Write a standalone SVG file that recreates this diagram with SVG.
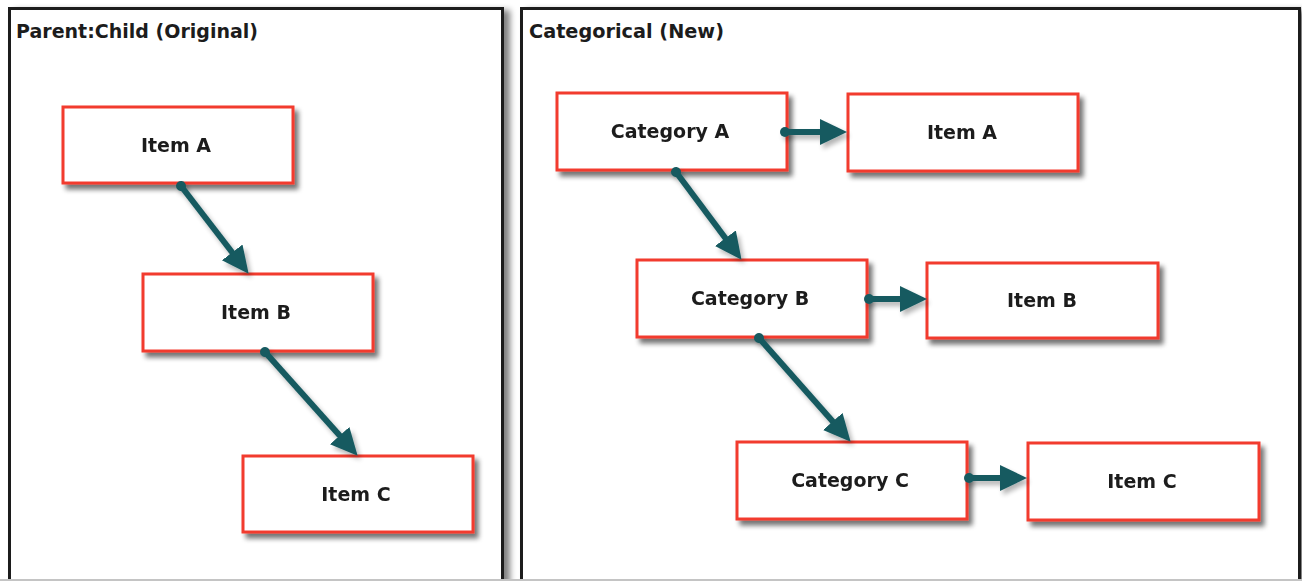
<svg xmlns="http://www.w3.org/2000/svg" width="1302" height="581" viewBox="0 0 1302 581">
<style>
.panel{fill:#fff;stroke:#1e1e1e;stroke-width:3}
.box{fill:#fff;stroke:#f23b2f;stroke-width:3}
.lbl{font-family:"DejaVu Sans",Verdana,sans-serif;font-weight:bold;font-size:19px;fill:#1c1c1c;text-anchor:middle}
.title{font-family:"DejaVu Sans",Verdana,sans-serif;font-weight:bold;font-size:19px;fill:#1c1c1c}
.conn{stroke:#175a60;stroke-width:6;fill:none;marker-start:url(#dot);marker-end:url(#head)}
</style>
<defs>
<filter id="sh" x="-10%" y="-10%" width="130%" height="140%">
<feGaussianBlur in="SourceAlpha" stdDeviation="2.5"/>
<feOffset dx="4" dy="5" result="b"/>
<feComponentTransfer><feFuncA type="linear" slope="0.55"/></feComponentTransfer>
<feMerge><feMergeNode/><feMergeNode in="SourceGraphic"/></feMerge>
</filter>
<filter id="csh" x="-20%" y="-20%" width="150%" height="150%">
<feGaussianBlur in="SourceAlpha" stdDeviation="2.5"/>
<feOffset dx="3" dy="4" result="b"/>
<feComponentTransfer><feFuncA type="linear" slope="0.3"/></feComponentTransfer>
<feMerge><feMergeNode/><feMergeNode in="SourceGraphic"/></feMerge>
</filter>
<filter id="psh" x="-5%" y="-5%" width="110%" height="110%">
<feGaussianBlur in="SourceAlpha" stdDeviation="3"/>
<feOffset dx="6" dy="3" result="b"/>
<feComponentTransfer><feFuncA type="linear" slope="0.5"/></feComponentTransfer>
<feMerge><feMergeNode/><feMergeNode in="SourceGraphic"/></feMerge>
</filter>
<marker id="head" markerUnits="userSpaceOnUse" markerWidth="30" markerHeight="28" refX="2" refY="13" orient="auto">
<path d="M0,0 L27,13 L0,26 Z" fill="#175a60"/>
</marker>
<marker id="dot" markerUnits="userSpaceOnUse" markerWidth="12" markerHeight="12" refX="6" refY="6" orient="auto">
<circle cx="6" cy="6" r="5" fill="#175a60"/>
</marker>
</defs>
<rect width="1302" height="581" fill="#fff"/>
<g id="panel-left">
<rect class="panel" x="9.5" y="8.5" width="493" height="600" filter="url(#psh)"/>
<text class="title" x="16" y="38" textLength="242" lengthAdjust="spacingAndGlyphs">Parent:Child (Original)</text>
</g>
<g id="panel-right">
<rect class="panel" x="521.5" y="8.5" width="778" height="600" filter="url(#psh)"/>
<text class="title" x="529" y="38" textLength="195" lengthAdjust="spacingAndGlyphs">Categorical (New)</text>
</g>
<line x1="0" y1="580" x2="1302" y2="580" stroke="#c4c4c4" stroke-width="2"/>
<g id="left-item-a" filter="url(#sh)">
<rect class="box" x="63" y="107" width="230" height="76"/>
<text class="lbl" x="176" y="152">Item A</text>
</g>
<g id="left-item-b" filter="url(#sh)">
<rect class="box" x="143" y="274" width="230" height="77"/>
<text class="lbl" x="256" y="319">Item B</text>
</g>
<g id="left-item-c" filter="url(#sh)">
<rect class="box" x="243" y="456" width="230" height="76"/>
<text class="lbl" x="356" y="501">Item C</text>
</g>
<g id="category-a" filter="url(#sh)">
<rect class="box" x="557" y="93" width="230" height="77"/>
<text class="lbl" x="670" y="138">Category A</text>
</g>
<g id="right-item-a" filter="url(#sh)">
<rect class="box" x="848" y="94" width="230" height="77"/>
<text class="lbl" x="962" y="139">Item A</text>
</g>
<g id="category-b" filter="url(#sh)">
<rect class="box" x="637" y="260" width="230" height="77"/>
<text class="lbl" x="750" y="305">Category B</text>
</g>
<g id="right-item-b" filter="url(#sh)">
<rect class="box" x="927" y="263" width="231" height="75"/>
<text class="lbl" x="1042" y="307">Item B</text>
</g>
<g id="category-c" filter="url(#sh)">
<rect class="box" x="737" y="442" width="230" height="77"/>
<text class="lbl" x="850" y="487">Category C</text>
</g>
<g id="right-item-c" filter="url(#sh)">
<rect class="box" x="1028" y="443" width="231" height="77"/>
<text class="lbl" x="1142" y="488">Item C</text>
</g>
<g id="connectors" filter="url(#csh)">
<path class="conn" d="M181,186 L233.4,254"/>
<path class="conn" d="M265,352 L341,437.1"/>
<path class="conn" d="M676,172 L726.6,239.8"/>
<path class="conn" d="M759,338 L834.1,423"/>
<path class="conn" d="M785,132 L822,132"/>
<path class="conn" d="M869,299 L902,299"/>
<path class="conn" d="M969,478 L1002,478"/>
</g>
</svg>
